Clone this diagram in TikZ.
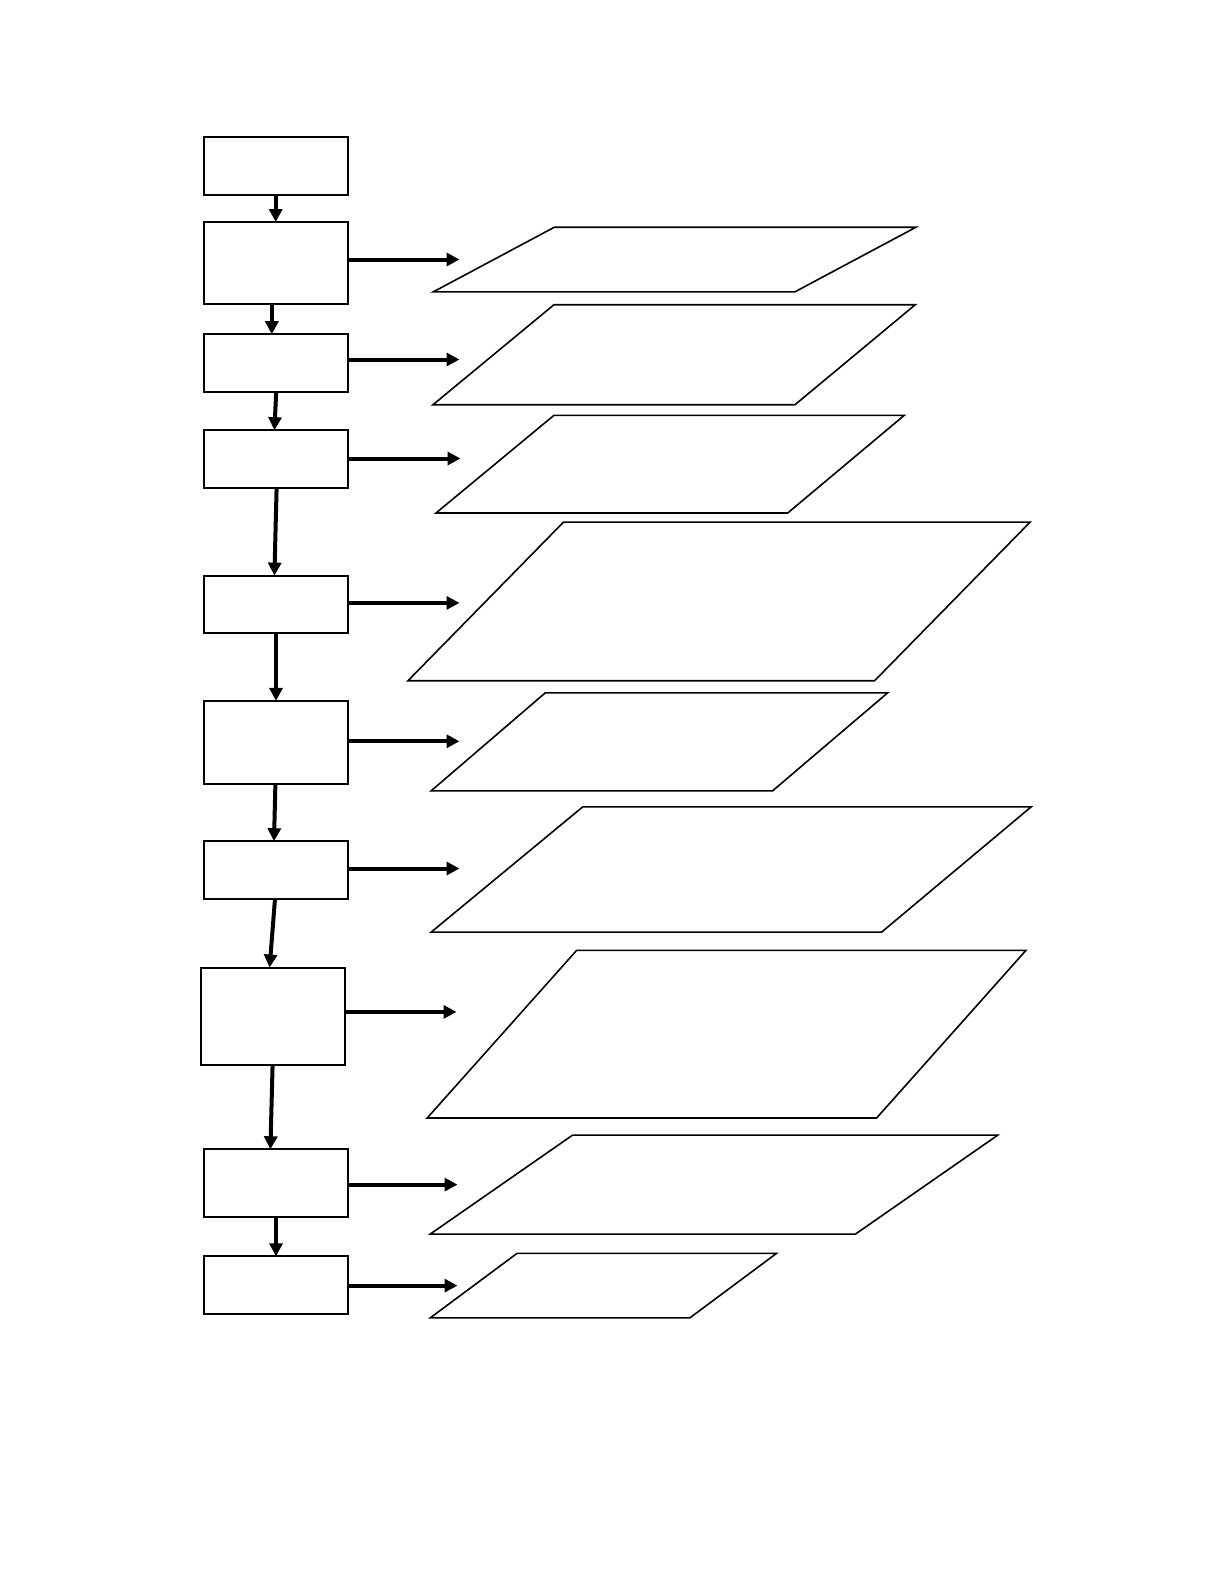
\documentclass[tikz,border=0pt]{standalone}
\usetikzlibrary{arrows.meta}
\tikzset{
  box/.style={draw, line width=1pt, inner sep=0pt, outer sep=0pt, minimum width=72.2pt},
  arr/.style={line width=2pt, -{Triangle[length=6.5pt,width=6.5pt]}},
  para/.style={draw, line width=0.8pt, line join=miter}
}
\begin{document}
\begin{tikzpicture}[x=0.5pt,y=-0.5pt]
\useasboundingbox[fill=white] (0,0) rectangle (1224,1584);
% left column boxes
\node[box, minimum height=28.8pt] (b1) at (276.2,166.1) {};
\node[box, minimum height=41pt]   (b2) at (276.2,263) {};
\node[box, minimum height=28.8pt] (b3) at (276.2,363) {};
\node[box, minimum height=28.8pt] (b4) at (276.2,459) {};
\node[box, minimum height=28.8pt] (b5) at (276.2,604.4) {};
\node[box, minimum height=41.4pt] (b6) at (276.2,742.3) {};
\node[box, minimum height=28.8pt] (b7) at (276.2,870) {};
\node[box, minimum height=48.5pt] (b8) at (273.2,1016) {};
\node[box, minimum height=33.8pt] (b9) at (276.2,1183.1) {};
\node[box, minimum height=28.8pt] (b10) at (276.2,1285.1) {};
% vertical connectors
\draw[arr] ([xshift=-0.25pt]b1.south) -- ([xshift=-0.25pt]b2.north);
\draw[arr] ([xshift=-2.2pt]b2.south) -- ([xshift=-2.2pt]b3.north);
\draw[arr] ([xshift=0pt]b3.south) -- ([xshift=-0.9pt]b4.north);
\draw[arr] ([xshift=0.2pt]b4.south) -- ([xshift=-0.9pt]b5.north);
\draw[arr] ([xshift=-0.1pt]b5.south) -- ([xshift=-0.1pt]b6.north);
\draw[arr] ([xshift=-0.4pt]b6.south) -- ([xshift=-1.1pt]b7.north);
\draw[arr] ([xshift=-0.6pt]b7.south) -- ([xshift=-1.8pt]b8.north);
\draw[arr] ([xshift=-0.3pt]b8.south) -- ([xshift=-2.9pt]b9.north);
\draw[arr] ([xshift=-0.1pt]b9.south) -- ([xshift=-0.1pt]b10.north);
% horizontal arrow ends
\coordinate (e2) at (459.5,259.5);
\coordinate (e3) at (459.5,359.5);
\coordinate (e4) at (460.5,458.5);
\coordinate (e5) at (459.5,602.9);
\coordinate (e6) at (459.5,741.3);
\coordinate (e7) at (459.5,868.5);
\coordinate (e8) at (456.5,1011.9);
\coordinate (e9) at (457.5,1184.6);
\coordinate (e10) at (457.5,1285.6);
\draw[arr] (b2.east |- e2) -- (e2);
\draw[arr] (b3.east |- e3) -- (e3);
\draw[arr] (b4.east |- e4) -- (e4);
\draw[arr] (b5.east |- e5) -- (e5);
\draw[arr] (b6.east |- e6) -- (e6);
\draw[arr] (b7.east |- e7) -- (e7);
\draw[arr] (b8.east |- e8) -- (e8);
\draw[arr] (b9.east |- e9) -- (e9);
\draw[arr] (b10.east |- e10) -- (e10);
% parallelograms
\draw[para] (554.4,227.2) -- (916,227.2) -- (794.8,291.9) -- (433.2,291.9) -- cycle;
\draw[para] (554,304.7) -- (915.3,304.7) -- (795,404.7) -- (433,404.7) -- cycle;
\draw[para] (554,415.3) -- (904.3,415.3) -- (787.7,513) -- (436,513) -- cycle;
\draw[para] (563.5,522.1) -- (1030.1,522.1) -- (874.6,680.7) -- (408,680.7) -- cycle;
\draw[para] (545.3,692.8) -- (887.7,692.8) -- (772.6,790.8) -- (431.2,790.8) -- cycle;
\draw[para] (582.7,806.9) -- (1031.1,806.9) -- (881.6,932.1) -- (431.2,932.1) -- cycle;
\draw[para] (576.7,950.3) -- (1026,950.3) -- (876.6,1118) -- (427.2,1118) -- cycle;
\draw[para] (572.6,1135.1) -- (997.8,1135.1) -- (855.4,1234.1) -- (430.2,1234.1) -- cycle;
\draw[para] (517.1,1253.3) -- (776.6,1253.3) -- (689.8,1317.9) -- (430.2,1317.9) -- cycle;
\end{tikzpicture}
\end{document}
